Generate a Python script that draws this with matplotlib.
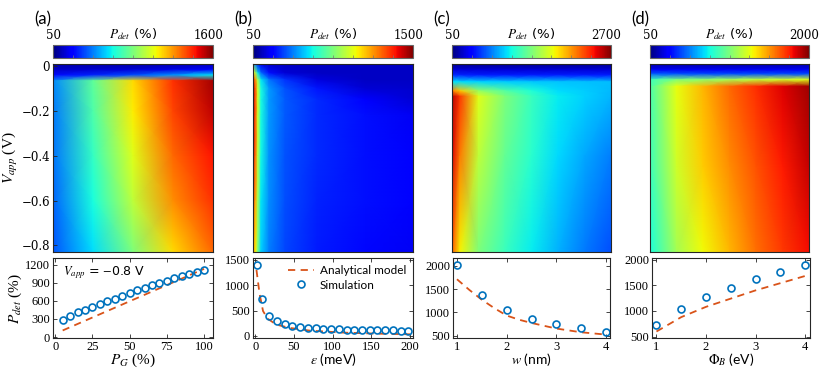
import numpy as np
import matplotlib.pyplot as plt

plt.rcParams['mathtext.fontset'] = 'stix'
plt.rcParams['font.family'] = ['Lato', 'DejaVu Sans']

# ---- heat maps: P_det (%) ----
# (a) x = P_G (%)
pa_x = [0, 25, 50, 75, 100]
pa_v = [0.01, -0.015, -0.04, -0.065, -0.2, -0.4, -0.6, -0.83]
pa_map = [[110, 110, 110, 120, 130],
          [150, 160, 170, 190, 230],
          [260, 300, 360, 470, 600],
          [450, 770, 1100, 1380, 1550],
          [430, 740, 1070, 1350, 1510],
          [420, 690, 1010, 1290, 1430],
          [400, 640, 950, 1230, 1380],
          [370, 580, 830, 1100, 1290]]

# (b) x = epsilon (meV)
pb_x = [0, 3, 6, 10, 20, 40, 80, 140, 200]
pb_v = [0.01, -0.03, -0.06, -0.1, -0.15, -0.22, -0.4, -0.6, -0.83]
pb_map = [[480, 410, 270, 200, 150, 140, 140, 140, 140],
          [1000, 850, 560, 380, 250, 160, 140, 140, 140],
          [1300, 1150, 850, 560, 400, 300, 170, 140, 140],
          [1380, 1240, 920, 600, 450, 350, 260, 160, 150],
          [1380, 1240, 920, 600, 450, 360, 290, 230, 160],
          [1380, 1240, 920, 600, 450, 360, 290, 250, 200],
          [1350, 1210, 890, 590, 440, 350, 290, 250, 210],
          [1280, 1120, 850, 560, 430, 340, 280, 250, 210],
          [1140, 1000, 780, 530, 410, 330, 270, 240, 200]]

# (c) x = w (nm)
pc_x = [1, 1.15, 1.5, 2, 2.5, 3, 3.5, 4]
pc_v = [0.01, -0.015, -0.04, -0.07, -0.11, -0.135, -0.4, -0.83]
pc_map = [[100, 100, 100, 100, 100, 100, 100, 100],
          [250, 250, 250, 250, 250, 250, 250, 250],
          [500, 480, 460, 460, 460, 460, 460, 460],
          [980, 960, 930, 910, 900, 890, 880, 870],
          [2100, 1900, 1450, 1250, 1080, 960, 910, 860],
          [2570, 2300, 1690, 1375, 1160, 1000, 920, 850],
          [2490, 2120, 1590, 1300, 1110, 950, 820, 710],
          [2220, 1770, 1375, 1160, 1000, 845, 700, 580]]

# (d) x = Phi_B (eV)
pd_x = [1, 1.5, 2, 2.5, 3, 3.5, 4]
pd_v = [0.01, -0.015, -0.035, -0.06, -0.09, -0.45, -0.83]
pd_map = [[120, 120, 120, 120, 120, 120, 120],
          [250, 250, 250, 250, 250, 250, 250],
          [480, 460, 440, 440, 440, 440, 440],
          [870, 1030, 1060, 1120, 1180, 1220, 1260],
          [910, 1280, 1450, 1610, 1730, 1840, 1940],
          [870, 1220, 1400, 1530, 1650, 1770, 1880],
          [790, 1120, 1300, 1450, 1590, 1710, 1800]]

cbar_lims = [(50, 1600), (50, 1500), (50, 2700), (50, 2000)]

# ---- line cuts at V_app = -0.8 V ----
pg_sim = [5, 10, 15, 20, 25, 30, 35, 40, 45, 50, 55, 60, 65, 70, 75, 80, 85, 90, 95, 100]
pdet_a_sim = [290, 355, 410, 453, 498, 547, 600, 636, 680, 730, 774, 813, 857, 896,
              935, 973, 1015, 1045, 1073, 1117]
pg_mod = [5, 100]
pdet_a_mod = [110, 1130]

eps_sim = [2, 8, 18, 28, 38, 48, 58, 68, 78, 88, 98, 108, 118, 128, 138, 148, 158,
           168, 178, 188, 198]
pdet_b_sim = [1390, 720, 400, 290, 230, 200, 175, 160, 150, 143, 135, 130, 125, 122,
              118, 115, 113, 110, 108, 106, 105]
eps_mod = [1.5, 3, 5.5, 10, 16, 27, 44, 70, 114, 157, 200]
pdet_b_mod = [1300, 1120, 830, 490, 340, 225, 160, 106, 66, 46, 33]

w_sim = [1, 1.5, 2, 2.5, 3, 3.5, 4]
pdet_c_sim = [2023, 1371, 1053, 864, 742, 652, 583]
w_mod = [1, 1.25, 1.5, 1.75, 2, 2.25, 2.5, 3, 3.5, 4]
pdet_c_mod = [1710, 1480, 1270, 1090, 930, 840, 770, 650, 570, 520]

phi_sim = [1, 1.5, 2, 2.5, 3, 3.5, 4]
pdet_d_sim = [734, 1045, 1266, 1454, 1617, 1766, 1903]
phi_mod = [1, 1.5, 2, 2.5, 3, 3.5, 4]
pdet_d_mod = [600, 880, 1080, 1240, 1400, 1540, 1680]

blue = '#0072BD'
orange = '#D95319'
frame = '#262626'

W, H = 822, 374
fig = plt.figure(figsize=(W / 100, H / 100), dpi=100)


def rect(x0, x1, y0, y1):
    return [x0 / W, 1 - y1 / H, (x1 - x0) / W, (y1 - y0) / H]


cols = [(53, 213), (253, 413), (452, 611), (650, 809)]
heat = [(pa_x, pa_v, pa_map), (pb_x, pb_v, pb_map), (pc_x, pc_v, pc_map), (pd_x, pd_v, pd_map)]
letters = ['(a)', '(b)', '(c)', '(d)']

serif = 'DejaVu Serif'
serif2 = 'Liberation Serif'


def style(ax):
    for s in ax.spines.values():
        s.set_color(frame)
        s.set_linewidth(0.8)
    ax.tick_params(direction='in', length=3, width=0.6, color=frame, top=True, right=True,
                   labelsize=8.5, pad=2)


for i, (x0, x1) in enumerate(cols):
    hx, hv, hm = heat[i]
    vmin, vmax = cbar_lims[i]

    axh = fig.add_axes(rect(x0, x1, 64, 252))
    X, Y = np.meshgrid(hx, hv)
    mesh = axh.pcolormesh(X, Y, np.array(hm, dtype=float), shading='gouraud', cmap='jet',
                          vmin=vmin, vmax=vmax)
    axh.set_xlim(hx[0], hx[-1])
    axh.set_ylim(-0.83, 0.01)
    axh.set_xticks([])
    style(axh)
    axh.tick_params(top=False, right=False)
    if i == 0:
        axh.set_yticks([0, -0.2, -0.4, -0.6, -0.8])
        axh.set_yticklabels(['0', '\u22120.2', '\u22120.4', '\u22120.6', '\u22120.8'],
                            family=serif, fontsize=8.5)
        axh.set_ylabel(r'$V_{app}$ (V)', family=serif2, fontsize=11, labelpad=1)
    else:
        axh.set_yticks([])

    cax = fig.add_axes(rect(x0, x1, 45, 58))
    cb = fig.colorbar(mesh, cax=cax, orientation='horizontal')
    cb.set_ticks(np.linspace(vmin, vmax, 9)[1:-1])
    cax.tick_params(direction='in', length=2.5, width=0.5, color='#777777', labelbottom=False,
                    bottom=True, top=False)
    cb.outline.set_edgecolor('#666666')
    cb.outline.set_linewidth(0.8)
    cax.text(0.0, 1.25, str(vmin), transform=cax.transAxes, ha='center', va='bottom',
             family=serif, fontsize=8.5)
    cax.text(0.97, 1.25, str(vmax), transform=cax.transAxes, ha='center', va='bottom',
             family=serif, fontsize=8.5)
    cax.text(0.5, 1.2, r'$P_{det}$ (%)', transform=cax.transAxes, ha='center', va='bottom',
             fontsize=9.5, family='DejaVu Sans')

    fig.text((x0 - 10) / W, 1 - 19 / H, letters[i], ha='center', va='center', fontsize=12)

# bottom panels
axa = fig.add_axes(rect(53, 213, 258, 338))
axa.plot(pg_mod, pdet_a_mod, '--', color=orange, lw=1.3, dashes=(4, 3))
axa.plot(pg_sim, pdet_a_sim, 'o', mfc='none', mec=blue, ms=5, mew=1.2)
axa.set_xlim(-1.5, 106)
axa.set_ylim(-15, 1310)
axa.set_xticks([0, 25, 50, 75, 100])
axa.set_yticks([0, 300, 600, 900, 1200])
axa.set_xlabel(r'$P_G$ (%)', family=serif2, fontsize=11, labelpad=-1)
axa.set_ylabel(r'$P_{det}$ (%)', family=serif2, fontsize=11, labelpad=1)
axa.text(0.06, 0.92, r'$V_{app}$ = $-$0.8 V', transform=axa.transAxes, ha='left', va='top',
         fontsize=9, family='DejaVu Sans')

axb = fig.add_axes(rect(253, 413, 258, 338))
axb.plot(eps_mod, pdet_b_mod, '--', color=orange, lw=1.3, dashes=(4, 3), label='Analytical model')
axb.plot(eps_sim, pdet_b_sim, 'o', mfc='none', mec=blue, ms=5, mew=1.2, label='Simulation')
axb.set_xlim(-3, 204)
axb.set_ylim(-40, 1535)
axb.set_xticks([0, 50, 100, 150, 200])
axb.set_yticks([0, 500, 1000, 1500])
axb.set_xlabel(r'$\epsilon$ (meV)', fontsize=10, labelpad=-1)
axb.legend(loc='upper right', frameon=False, fontsize=8.5, handlelength=2.2,
           borderaxespad=0.2, labelspacing=0.3, handletextpad=0.5)

axc = fig.add_axes(rect(453, 610, 258, 338))
axc.plot(w_mod, pdet_c_mod, '--', color=orange, lw=1.3, dashes=(4, 3))
axc.plot(w_sim, pdet_c_sim, 'o', mfc='none', mec=blue, ms=5, mew=1.2)
axc.set_xlim(0.92, 4.08)
axc.set_ylim(447, 2167)
axc.set_xticks([1, 2, 3, 4])
axc.set_yticks([500, 1000, 1500, 2000])
axc.set_xlabel(r'$w$ (nm)', fontsize=10, labelpad=-1)

axd = fig.add_axes(rect(652, 810, 258, 338))
axd.plot(phi_mod, pdet_d_mod, '--', color=orange, lw=1.3, dashes=(4, 3))
axd.plot(phi_sim, pdet_d_sim, 'o', mfc='none', mec=blue, ms=5, mew=1.2)
axd.set_xlim(0.91, 4.1)
axd.set_ylim(474, 2030)
axd.set_xticks([1, 2, 3, 4])
axd.set_yticks([500, 1000, 1500, 2000])
axd.set_xlabel(r'$\Phi_B$ (eV)', fontsize=10, labelpad=-1)

for ax in (axa, axb, axc, axd):
    style(ax)
    for lab in ax.get_xticklabels() + ax.get_yticklabels():
        lab.set_family(serif2)
        lab.set_fontsize(9)

fig.savefig('out.png', dpi=100)
